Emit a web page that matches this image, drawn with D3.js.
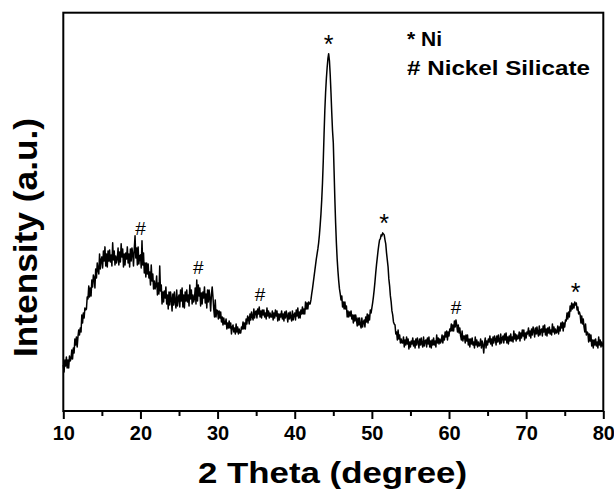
<!DOCTYPE html>
<html>
<head>
<meta charset="utf-8">
<script src="https://d3js.org/d3.v7.min.js"></script>
<style>
body { margin: 0; background: #fff; }
text { font-family: "Liberation Sans", Arial, Helvetica, sans-serif; }
</style>
</head>
<body>
<svg id="chart" width="614" height="491"></svg>
<script>
// scan: 10 to 80 degrees, 0.1 degree step (one row = one degree)
var scanStart = 10;
var scanStep = 0.1;
var intensity = [
    46, 39, 51, 45, 54, 43, 51, 43, 55, 50,
    52, 61, 52, 63, 58, 72, 66, 74, 64, 74,
    81, 76, 83, 79, 96, 88, 98, 93, 103, 101,
    102, 114, 112, 125, 114, 123, 115, 131, 124, 136,
    133, 123, 142, 133, 148, 141, 137, 157, 142, 151,
    154, 143, 160, 150, 164, 145, 157, 144, 160, 150,
    161, 149, 156, 145, 168, 151, 160, 146, 155, 148,
    152, 163, 146, 159, 149, 167, 154, 162, 144, 157,
    146, 158, 152, 164, 148, 157, 144, 162, 150, 163,
    157, 145, 162, 175, 153, 163, 146, 164, 147, 155,
    156, 143, 170, 146, 158, 138, 148, 134, 148, 137,
    147, 133, 139, 126, 146, 130, 137, 122, 130, 122,
    125, 135, 116, 128, 117, 145, 120, 126, 107, 119,
    109, 120, 113, 124, 107, 116, 102, 119, 106, 119,
    112, 100, 117, 106, 119, 109, 103, 121, 105, 113,
    116, 104, 121, 110, 123, 104, 116, 103, 119, 110,
    121, 109, 116, 105, 126, 112, 121, 107, 116, 109,
    112, 123, 107, 131, 110, 126, 115, 123, 105, 118,
    107, 119, 113, 124, 108, 117, 103, 121, 109, 121,
    113, 100, 116, 124, 114, 102, 94, 111, 94, 101,
    100, 92, 100, 93, 99, 89, 94, 86, 93, 87,
    87, 92, 82, 88, 83, 90, 83, 88, 77, 84,
    86, 79, 83, 77, 87, 79, 84, 77, 82, 78,
    78, 84, 82, 89, 82, 88, 82, 92, 87, 95,
    93, 87, 97, 91, 99, 94, 91, 102, 93, 99,
    100, 93, 102, 97, 104, 94, 100, 93, 101, 96,
    101, 94, 98, 92, 103, 95, 100, 93, 98, 94,
    94, 100, 91, 98, 93, 101, 95, 100, 90, 97,
    91, 97, 94, 100, 92, 97, 90, 99, 93, 100,
    95, 89, 98, 92, 99, 93, 90, 100, 91, 96,
    98, 91, 101, 95, 103, 93, 99, 93, 101, 97,
    104, 97, 102, 97, 109, 102, 108, 102, 109, 107,
    107, 111, 117, 122, 128, 134, 140, 146, 152, 157,
    162, 168, 176, 186, 197, 211, 228, 250, 276, 300,
    318, 332, 343, 352, 357, 350, 336, 318, 298, 280,
    268, 240, 212, 188, 168, 152, 140, 130, 122, 117,
    111, 115, 104, 109, 102, 109, 102, 105, 94, 100,
    94, 99, 95, 100, 92, 96, 88, 96, 90, 96,
    91, 85, 93, 86, 93, 86, 83, 93, 84, 89,
    91, 84, 94, 89, 97, 88, 96, 91, 101, 98,
    103, 108, 114, 121, 129, 138, 146, 153, 160, 166,
    171, 172, 176, 175, 178, 177, 176, 171, 167, 158,
    151, 144, 132, 125, 115, 109, 100, 96, 89, 87,
    86, 77, 79, 71, 81, 72, 76, 68, 72, 68,
    68, 74, 64, 71, 66, 74, 67, 72, 62, 69,
    64, 70, 67, 73, 65, 70, 63, 72, 66, 73,
    69, 63, 72, 66, 73, 67, 64, 74, 65, 70,
    71, 64, 73, 67, 74, 64, 70, 63, 71, 66,
    73, 66, 70, 64, 76, 68, 73, 67, 72, 68,
    70, 76, 68, 75, 71, 79, 74, 80, 71, 79,
    75, 82, 80, 87, 80, 86, 80, 90, 84, 91,
    86, 79, 86, 78, 83, 75, 71, 80, 70, 75,
    75, 68, 76, 70, 76, 66, 72, 64, 72, 67,
    73, 66, 69, 63, 74, 66, 71, 64, 69, 65,
    66, 72, 63, 70, 66, 58, 68, 73, 63, 70,
    66, 72, 69, 75, 67, 72, 65, 74, 68, 75,
    72, 66, 75, 69, 76, 70, 67, 77, 68, 73,
    75, 68, 77, 71, 78, 68, 74, 67, 75, 70,
    77, 70, 74, 69, 80, 72, 77, 70, 76, 72,
    73, 79, 70, 78, 73, 81, 75, 81, 71, 78,
    73, 79, 77, 83, 75, 80, 73, 82, 76, 84,
    80, 74, 83, 77, 84, 78, 75, 85, 76, 81,
    82, 75, 85, 79, 86, 76, 82, 75, 83, 78,
    84, 77, 81, 76, 87, 79, 84, 77, 82, 78,
    79, 85, 77, 84, 80, 88, 83, 89, 80, 88,
    84, 91, 90, 98, 92, 99, 94, 105, 100, 108,
    102, 107, 103, 109, 106, 108, 101, 104, 97, 99,
    96, 88, 95, 87, 92, 84, 79, 87, 76, 79,
    78, 69, 77, 70, 76, 65, 71, 63, 71, 66,
    72, 65, 69, 63, 74, 66, 71, 64, 69, 65,
    68];

var majorTicks = [10, 20, 30, 40, 50, 60, 70, 80];
var minorTicks = [15, 25, 35, 45, 55, 65, 75];

// phase marks over the peaks
var peakMarks = [
    {"pos": 20, "mark": "#"},
    {"pos": 27.5, "mark": "#"},
    {"pos": 35.5, "mark": "#"},
    {"pos": 44.4, "mark": "*"},
    {"pos": 51.6, "mark": "*"},
    {"pos": 60.9, "mark": "#"},
    {"pos": 76.4, "mark": "*"}];

var legendLines = ["* Ni", "# Nickel Silicate"];

var data = intensity.map(function(v, i){
    return {"theta": scanStart + i * scanStep, "value": v};
});

var plotLeft = 63.3, plotRight = 603.3, plotTop = 12.7, plotBottom = 411;
var svg = d3.select("#chart");

var xScale = d3.scaleLinear().domain([10, 80]).range([plotLeft, plotRight]);
var yScale = d3.scaleLinear().domain([0, 398]).range([plotBottom, plotTop]);

var line = d3.line()
    .x(function(d){ return xScale(d.theta); })
    .y(function(d){ return yScale(d.value); });

svg.append("path")
    .datum(data)
    .attr("d", line)
    .attr("fill", "none")
    .attr("stroke", "#000")
    .attr("stroke-width", 1.5)
    .attr("stroke-linejoin", "round");

// minor ticks
svg.append("g")
    .attr("transform", "translate(0," + plotBottom + ")")
    .call(d3.axisBottom(xScale).tickValues(minorTicks).tickSize(5).tickFormat(""))
    .call(function(g){ g.select(".domain").remove(); })
    .selectAll("line").attr("stroke-width", 2);

// major ticks + labels
var xAxis = svg.append("g")
    .attr("transform", "translate(0," + plotBottom + ")")
    .call(d3.axisBottom(xScale).tickValues(majorTicks).tickSize(8).tickPadding(7).tickFormat(d3.format("d")));
xAxis.select(".domain").remove();
xAxis.selectAll("line").attr("stroke-width", 2);
xAxis.selectAll("text")
    .attr("font-size", 20)
    .attr("font-weight", "bold")
    .attr("font-family", "'Liberation Sans', Arial, sans-serif")
    .attr("fill", "#000");

// frame
svg.append("rect")
    .attr("x", plotLeft).attr("y", plotTop)
    .attr("width", plotRight - plotLeft).attr("height", plotBottom - plotTop)
    .attr("fill", "none")
    .attr("stroke", "#000")
    .attr("stroke-width", 2);

// marks over peaks
svg.selectAll(".mark")
    .data(peakMarks)
    .enter().append("text")
    .attr("class", "mark")
    .attr("x", function(d){ return xScale(d.pos); })
    .attr("y", function(d){
        var near = data.filter(function(p){ return Math.abs(p.theta - d.pos) <= 0.6; });
        var peakY = yScale(d3.max(near, function(p){ return p.value; }));
        return d.mark == "*" ? peakY - 1 : peakY - 6;
    })
    .attr("text-anchor", "middle")
    .attr("font-size", function(d){ return d.mark == "*" ? 25 : 19; })
    .text(function(d){ return d.mark; });

// legend
svg.selectAll(".legend")
    .data(legendLines)
    .enter().append("text")
    .attr("class", "legend")
    .attr("x", 407)
    .attr("y", function(d, i){ return 46 + i * 29; })
    .attr("font-size", 21)
    .attr("font-weight", "bold")
    .attr("textLength", function(d, i){ return i == 1 ? 183 : null; })
    .attr("lengthAdjust", "spacingAndGlyphs")
    .text(function(d){ return d; });

// axis titles
svg.append("text")
    .attr("x", 332.5)
    .attr("y", 483)
    .attr("text-anchor", "middle")
    .attr("font-size", 30)
    .attr("font-weight", "bold")
    .attr("textLength", 269)
    .attr("lengthAdjust", "spacingAndGlyphs")
    .text("2 Theta (degree)");

svg.append("text")
    .attr("transform", "translate(37,237.5) rotate(-90)")
    .attr("text-anchor", "middle")
    .attr("font-size", 33)
    .attr("font-weight", "bold")
    .attr("textLength", 239)
    .attr("lengthAdjust", "spacingAndGlyphs")
    .text("Intensity (a.u.)");
</script>
</body>
</html>
